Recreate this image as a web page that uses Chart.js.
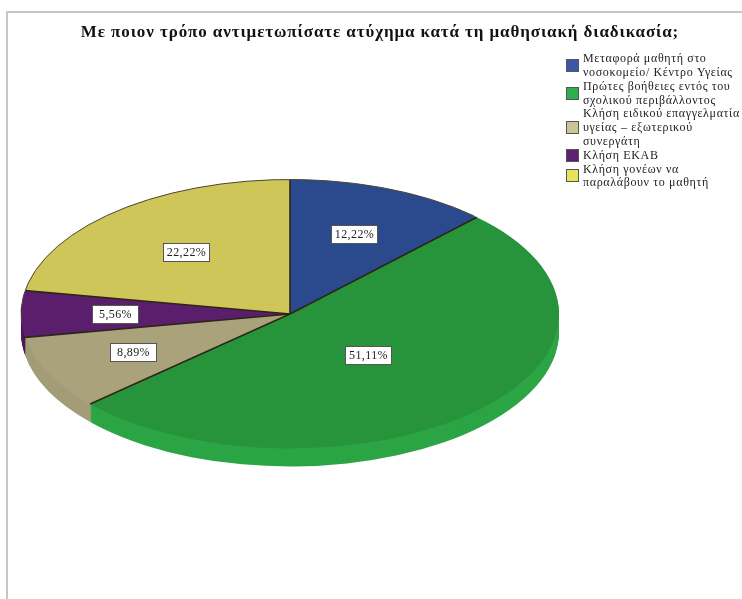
<!DOCTYPE html>
<html>
<head>
<meta charset="utf-8">
<style>
  body { margin: 0; background: #fff; }
  #wrap { position: relative; width: 742px; height: 599px; overflow: hidden; }
  #frame { position: absolute; left: 6px; top: 11px; width: 800px; height: 700px; border: 2px solid #c6c6c6; }
  canvas { position: absolute; left: 0; top: 0; }
</style>
</head>
<body>
<div id="wrap">
  <div id="frame"></div>
  <canvas id="pie" width="742" height="599"></canvas>
</div>
<script src="https://cdn.jsdelivr.net/npm/chart.js@4/dist/chart.umd.js"></script>
<script>
const chartTitle = "Με ποιον τρόπο αντιμετωπίσατε ατύχημα κατά τη μαθησιακή διαδικασία;";
const categories = [
  ["Μεταφορά μαθητή στο", "νοσοκομείο/ Κέντρο Υγείας"],
  ["Πρώτες βοήθειες εντός του", "σχολικού περιβάλλοντος"],
  ["Κλήση ειδικού επαγγελματία", "υγείας – εξωτερικού", "συνεργάτη"],
  ["Κλήση ΕΚΑΒ"],
  ["Κλήση γονέων να", "παραλάβουν το μαθητή"],
];
const percentages = [12.22, 51.11, 8.89, 5.56, 22.22];
const topColors = ["#2b4a8e", "#27943c", "#a9a27b", "#5a1e6c", "#cfc65a"];
const sideColors = ["#2b4a8e", "#2ca545", "#a39c78", "#4a1a5a", "#cfc65a"];
const swatchColors = ["#3f55a8", "#2fae4e", "#c9c596", "#5f2070", "#e8e45a"];
const labelReach = [0.64, 0.42, 0.65, 0.65, 0.6];

const squash = 0.5; // ratio of the ellipse
const depth = 18;

const pie3d = {
  id: "pie3d",
  beforeDatasetsDraw(chart) {
    const ctx = chart.ctx;
    const arcs = chart.getDatasetMeta(0).data;
    const cy = arcs[0].y;
    // side wall of the pie, stacked from the bottom up
    for (let d = depth; d > 0; d--) {
      ctx.save();
      ctx.translate(0, cy + d);
      ctx.scale(1, squash);
      ctx.translate(0, -cy);
      arcs.forEach(function (arc, i) {
        ctx.fillStyle = sideColors[i];
        ctx.beginPath();
        ctx.moveTo(arc.x, arc.y);
        ctx.arc(arc.x, arc.y, arc.outerRadius, arc.startAngle, arc.endAngle);
        ctx.closePath();
        ctx.fill();
      });
      ctx.restore();
    }
    ctx.save();
    ctx.translate(0, cy);
    ctx.scale(1, squash);
    ctx.translate(0, -cy);
  },
  afterDatasetsDraw(chart) {
    const ctx = chart.ctx;
    const arcs = chart.getDatasetMeta(0).data;
    ctx.restore();

    // dark slice edges and the thin rim on the far half
    ctx.save();
    ctx.strokeStyle = "#2e2618";
    ctx.lineWidth = 1.6;
    arcs.forEach(function (arc) {
      ctx.beginPath();
      ctx.moveTo(arc.x, arc.y);
      ctx.lineTo(arc.x + Math.cos(arc.startAngle) * arc.outerRadius, arc.y + Math.sin(arc.startAngle) * arc.outerRadius * squash);
      ctx.stroke();
    });
    ctx.lineWidth = 1;
    ctx.strokeStyle = "#4a4630";
    ctx.beginPath();
    ctx.ellipse(arcs[0].x, arcs[0].y, arcs[0].outerRadius, arcs[0].outerRadius * squash, 0, Math.PI * 0.98, Math.PI * 1.74);
    ctx.stroke();
    ctx.restore();
  },
  afterDraw(chart) {
    const ctx = chart.ctx;
    const arcs = chart.getDatasetMeta(0).data;

    // title
    ctx.save();
    ctx.fillStyle = "#111";
    ctx.textAlign = "center";
    ctx.textBaseline = "middle";
    ctx.font = "bold 17px 'Liberation Serif'";
    ctx.letterSpacing = "0.9px";
    ctx.fillText(chartTitle, 380, 33);
    ctx.restore();

    // percentage boxes
    ctx.save();
    ctx.font = "12px 'Liberation Serif'";
    ctx.letterSpacing = "0.4px";
    ctx.textAlign = "center";
    ctx.textBaseline = "middle";
    arcs.forEach(function (arc, i) {
      const mid = (arc.startAngle + arc.endAngle) / 2;
      const r = arc.outerRadius * labelReach[i];
      const x = Math.round(arc.x + Math.cos(mid) * r) + 0.5;
      const y = Math.round(arc.y + Math.sin(mid) * r * squash) + 0.5;
      const text = percentages[i].toFixed(2).replace(".", ",") + "%";
      ctx.fillStyle = "#fff";
      ctx.strokeStyle = "#555";
      ctx.lineWidth = 1;
      ctx.fillRect(x - 23, y - 9, 46, 18);
      ctx.strokeRect(x - 23, y - 9, 46, 18);
      ctx.fillStyle = "#222";
      ctx.fillText(text, x, y + 0.5);
    });
    ctx.restore();

    // legend, the text lines sit 13.8px apart and each block follows the previous one
    ctx.save();
    ctx.font = "12px 'Liberation Serif'";
    ctx.letterSpacing = "0.65px";
    ctx.textBaseline = "middle";
    let lineY = 59;
    categories.forEach(function (lines, i) {
      const swatchY = Math.round(lineY + (lines.length - 1) * 6.9 - 7) + 0.5;
      ctx.fillStyle = swatchColors[i];
      ctx.strokeStyle = "#555";
      ctx.lineWidth = 1;
      ctx.fillRect(566.5, swatchY, 12, 12);
      ctx.strokeRect(566.5, swatchY, 12, 12);
      ctx.fillStyle = "#222";
      lines.forEach(function (line) {
        ctx.fillText(line, 583, lineY);
        lineY += 13.8;
      });
    });
    ctx.restore();
  },
};

new Chart(document.getElementById("pie").getContext("2d"), {
  type: "pie",
  data: {
    labels: categories.map(function (c) { return c.join(" "); }),
    datasets: [
      {
        data: percentages,
        backgroundColor: topColors,
        borderWidth: 0,
        clip: false,
      },
    ],
  },
  options: {
    responsive: false,
    animation: false,
    layout: { padding: { left: 21, right: 183, top: 45, bottom: 16 } },
    plugins: {
      legend: { display: false },
      tooltip: { enabled: false },
    },
  },
  plugins: [pie3d],
});
</script>
</body>
</html>
